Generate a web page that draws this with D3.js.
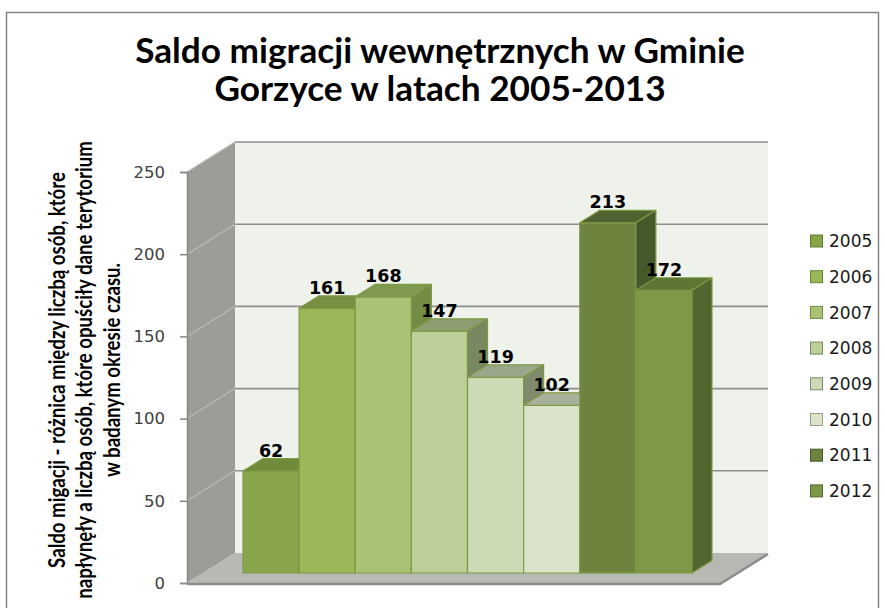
<!DOCTYPE html>
<html lang="pl">
<head>
<meta charset="UTF-8">
<title>Saldo migracji wewnętrznych w Gminie Gorzyce</title>
<script src="https://cdn.jsdelivr.net/npm/d3@7"></script>
<style>
  body { margin: 0; background: #fff; }
  svg { display: block; }
</style>
</head>
<body>
<div class="chart"></div>
<script>
  const years = ['2005', '2006', '2007', '2008', '2009', '2010', '2011', '2012'];
  const values = [62, 161, 168, 147, 119, 102, 213, 172];
  const yTicks = [0, 50, 100, 150, 200, 250];
  const titleLines = ['Saldo migracji wewnętrznych w Gminie', 'Gorzyce w latach 2005-2013'];
  const yTitleLines = [
    'Saldo migacji - różnica między liczbą osób, które',
    'napłynęły a liczbą osób, które opuściły dane terytorium',
    'w badanym okresie czasu.'
  ];

  const frontColors = ['#88a54c', '#9bb858', '#a9c275', '#bccf98', '#ccdab6', '#dbe4ca', '#6e843e', '#7e9847'];
  const topColors   = ['#6f8a3b', '#768f40', '#7f9a50', '#8b9d71', '#9aa68a', '#a8b09b', '#4f6230', '#5e7535'];
  const sideColors  = ['#5f7a30', '#6a8538', '#728c46', '#788860', '#7f8b6c', '#959c88', '#45592a', '#52662f'];

  const W = 885, H = 608;
  const svg = d3.select('.chart').append('svg').attr('width', W).attr('height', H);

  // oblique projection: z = 0 front plane, z = 1 back wall
  const DX = 48, DY = -30;
  const P = (x, y, z) => [x + z * DX, y + z * DY];
  const poly = pts => 'M' + pts.map(p => p.join(',')).join('L') + 'Z';

  const plot = { x0: 187, x1: 720 };
  const yScale = d3.scaleLinear().domain([0, 250]).range([583, 172]);
  const xScale = d3.scaleBand().domain(years).range([227, 676]).padding(0);
  const front = d3.scaleOrdinal().domain(years).range(frontColors);
  const topC = d3.scaleOrdinal().domain(years).range(topColors);
  const side = d3.scaleOrdinal().domain(years).range(sideColors);
  const z0 = 1 / 3, z1 = 0.75;

  // outer frame
  svg.append('rect').attr('x', 6.5).attr('y', 12.5).attr('width', 872).attr('height', 640)
    .attr('fill', 'none').attr('stroke', '#868686').attr('stroke-width', 1.5);

  const y0 = yScale(0), yTop = yScale(250);

  // back wall
  svg.append('path')
    .attr('d', poly([P(plot.x0, y0, 1), P(plot.x1, y0, 1), P(plot.x1, yTop, 1), P(plot.x0, yTop, 1)]))
    .attr('fill', '#eff2eb');
  // left wall
  svg.append('path')
    .attr('d', poly([P(plot.x0, y0, 0), P(plot.x0, y0, 1), P(plot.x0, yTop, 1), P(plot.x0, yTop, 0)]))
    .attr('fill', '#9b9d98');
  // floor
  svg.append('path')
    .attr('d', poly([P(plot.x0, y0, 0), P(plot.x1, y0, 0), P(plot.x1, y0, 1), P(plot.x0, y0, 1)]))
    .attr('fill', '#b7b9b3');
  svg.append('path')
    .attr('d', poly([P(plot.x0, y0 + 1, 0), P(plot.x1, y0 + 1, 0), P(plot.x1, y0 + 1, 1)]).replace('Z', ''))
    .attr('fill', 'none').attr('stroke', '#8c8c8c').attr('stroke-width', 2.5);

  // gridlines
  svg.append('g').selectAll('line').data(yTicks.filter(t => t > 0)).enter().append('line')
    .attr('x1', P(plot.x0, 0, 0)[0]).attr('x2', P(plot.x0, 0, 1)[0])
    .attr('y1', d => P(plot.x0, yScale(d), 0)[1]).attr('y2', d => P(plot.x0, yScale(d), 1)[1])
    .attr('stroke', '#b9bbb6').attr('stroke-width', 1.2);
  svg.append('g').selectAll('line').data(yTicks.filter(t => t > 0)).enter().append('line')
    .attr('x1', P(plot.x0, 0, 1)[0]).attr('x2', P(plot.x1, 0, 1)[0])
    .attr('y1', d => P(0, yScale(d), 1)[1]).attr('y2', d => P(0, yScale(d), 1)[1])
    .attr('stroke', '#8e8e8e').attr('stroke-width', 1.6);

  // y axis
  const yAxis = d3.axisLeft(yScale).tickValues(yTicks).tickSize(7).tickPadding(15);
  const ax = svg.append('g').attr('transform', `translate(${plot.x0} 0)`).call(yAxis);
  ax.select('.domain').attr('stroke', '#868686').attr('stroke-width', 1.5);
  ax.selectAll('.tick line').attr('stroke', '#868686').attr('stroke-width', 1.5);
  ax.selectAll('.tick text').attr('fill', '#404040')
    .style('font-family', '"DejaVu Sans", sans-serif').style('font-size', '16.5px');

  // bars
  const data = years.map((y, i) => ({ year: y, value: values[i] }));
  const bars = svg.selectAll('.bar').data(data).enter().append('g').attr('class', 'bar');
  const xl = d => xScale(d.year), xr = d => xScale(d.year) + xScale.bandwidth(), yv = d => yScale(d.value);
  bars.append('path')
    .attr('d', d => poly([P(xl(d), y0, z0), P(xr(d), y0, z0), P(xr(d), yv(d), z0), P(xl(d), yv(d), z0)]))
    .attr('fill', d => front(d.year));
  bars.append('path')
    .attr('d', d => poly([P(xl(d), yv(d), z0), P(xr(d), yv(d), z0), P(xr(d), yv(d), z1), P(xl(d), yv(d), z1)]))
    .attr('fill', d => topC(d.year));
  bars.append('path')
    .attr('d', d => poly([P(xr(d), y0, z0), P(xr(d), y0, z1), P(xr(d), yv(d), z1), P(xr(d), yv(d), z0)]))
    .attr('fill', d => side(d.year));
  bars.selectAll('path').attr('stroke', '#7d9b45').attr('stroke-width', 1.2).attr('stroke-linejoin', 'round');

  // value labels
  svg.append('g').selectAll('text').data(data).enter().append('text')
    .attr('x', d => P(xl(d) + xScale.bandwidth() / 2, 0, z0)[0])
    .attr('y', d => P(0, yv(d), z1)[1] - 2)
    .attr('text-anchor', 'middle')
    .style('font-family', '"DejaVu Sans", sans-serif').style('font-weight', 'bold').style('font-size', '17.5px')
    .attr('fill', '#000')
    .text(d => d.value);

  // legend
  const lg = svg.append('g').selectAll('g').data(years).enter().append('g')
    .attr('transform', (d, i) => `translate(810 ${241 + i * 35.7})`);
  lg.append('rect').attr('x', 0.5).attr('y', -6).attr('width', 12).attr('height', 12)
    .attr('fill', d => front(d)).attr('stroke', d => side(d)).attr('stroke-width', 1);
  lg.append('text').attr('x', 19).attr('dy', '0.36em')
    .style('font-family', '"DejaVu Sans", sans-serif').style('font-size', '17px').attr('fill', '#1a1a1a')
    .text(d => d);

  // scale font size so the chosen line reaches the target width
  function fit(sel, size, target) {
    sel.style('font-size', size + 'px');
    const w = sel.node().getComputedTextLength();
    return size * target / w;
  }

  // title
  const title = svg.append('g').selectAll('text').data(titleLines).enter().append('text')
    .attr('x', 440).attr('y', (d, i) => 63 + i * 38)
    .attr('text-anchor', 'middle')
    .style('font-family', 'Lato, sans-serif').style('font-weight', 'bold')
    .attr('fill', '#000').text(d => d);
  const ts = fit(title.filter((d, i) => i === 0), 28, 610);
  title.style('font-size', ts + 'px');

  // y axis title (glyphs stretched across the baseline like the original)
  const stretch = 1.25;
  const yt = svg.append('g').attr('transform', `translate(84 370) rotate(-90) scale(1 ${stretch})`)
    .selectAll('text').data(yTitleLines).enter().append('text')
    .attr('x', 0).attr('y', (d, i) => (i - 1) * 27.5 / stretch).attr('dy', '0.35em')
    .attr('text-anchor', 'middle')
    .style('font-family', 'Lato, sans-serif').style('font-weight', 'bold')
    .attr('fill', '#000').text(d => d);
  const ys = fit(yt.filter((d, i) => i === 1), 16, 458);
  yt.style('font-size', ys + 'px');
</script>
</body>
</html>
